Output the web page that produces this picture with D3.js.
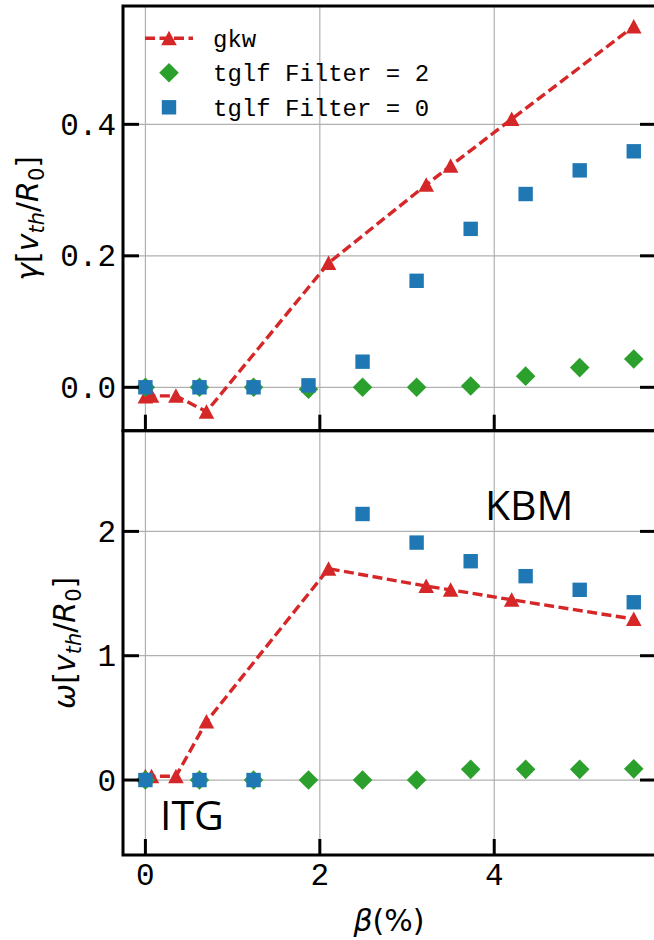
<!DOCTYPE html>
<html>
<head>
<meta charset="utf-8">
<script src="https://cdn.jsdelivr.net/npm/d3@7"></script>
<style>
  body { margin: 0; background: #fff; }
  svg { display: block; }
</style>
</head>
<body>
<svg id="chart" width="654" height="940"></svg>
<script>
// gkw scan: growth rate and real frequency versus beta (%)
const gkwBeta  = [0, 0.07, 0.35, 0.7, 2.1, 3.22, 3.5, 4.2, 5.6];
const gkwGamma = [-0.014, -0.013, -0.013, -0.037, 0.189, 0.308, 0.337, 0.408, 0.549];
const gkwOmega = [0.03, 0.03, 0.03, 0.47, 1.70, 1.56, 1.53, 1.45, 1.295];

// tglf scan with two filter settings
const tglfBeta    = [0, 0.62, 1.24, 1.87, 2.49, 3.11, 3.73, 4.36, 4.98, 5.6];
const tglf2Gamma  = [0, 0, 0, -0.003, 0, 0, 0.002, 0.017, 0.030, 0.043];
const tglf0Gamma  = [0, 0, 0, 0.003, 0.039, 0.162, 0.241, 0.294, 0.330, 0.359];
const tglf2Omega  = [0, 0, 0, 0, 0, 0, 0.086, 0.086, 0.086, 0.09];
const tglf0Omega  = [0, 0, 0, null, 2.14, 1.91, 1.76, 1.64, 1.53, 1.43];

const xTicks     = [0, 2, 4];
const gammaTicks = [0, 0.2, 0.4];
const omegaTicks = [0, 1, 2];
const legendLabels = ["gkw", "tglf Filter = 2", "tglf Filter = 0"];

const RED = "#d62728", GREEN = "#2ca02c", BLUE = "#1f77b4";
const MONO = "'Liberation Mono', monospace";
const MATH = "'DejaVu Sans', sans-serif";

const svg = d3.select("#chart");
const left = 123, right = 656;
const panels = [
  { top: 6, bottom: 430.7, domain: [-0.066, 0.58], ticks: gammaTicks, fmt: d3.format(".1f"),
    gkw: gkwGamma, t2: tglf2Gamma, t0: tglf0Gamma, sym: "γ", labelX: 38, xLabels: false },
  { top: 430.7, bottom: 855, domain: [-0.603, 2.81], ticks: omegaTicks, fmt: d3.format("d"),
    gkw: gkwOmega, t2: tglf2Omega, t0: tglf0Omega, sym: "ω", labelX: 75, xLabels: true }
];

const x = d3.scaleLinear().domain([-0.257, 5.855]).range([left, right]);

const triPath = "M0,-7.5L7.8,7L-7.8,7Z";
const diamondPath = "M0,-9.8L9.8,0L0,9.8L-9.8,0Z";
const squarePath = "M-7.2,-7.2H7.2V7.2H-7.2Z";
const TICK = 16;
const DASH = "10,4.5";

panels.forEach(p => {
  const y = d3.scaleLinear().domain(p.domain).range([p.bottom, p.top]);
  const g = svg.append("g");

  // grid
  g.append("g").selectAll("line.gx").data(xTicks).join("line")
    .attr("x1", d => x(d)).attr("x2", d => x(d))
    .attr("y1", p.top).attr("y2", p.bottom)
    .attr("stroke", "#b0b0b0").attr("stroke-width", 1.2);
  g.append("g").selectAll("line.gy").data(p.ticks).join("line")
    .attr("x1", left).attr("x2", right)
    .attr("y1", d => y(d)).attr("y2", d => y(d))
    .attr("stroke", "#b0b0b0").attr("stroke-width", 1.2);

  // gkw dashed line with triangles
  const gkwPts = gkwBeta.map((b, i) => [b, p.gkw[i]]);
  g.append("path").datum(gkwPts)
    .attr("d", d3.line().x(d => x(d[0])).y(d => y(d[1])))
    .attr("fill", "none").attr("stroke", RED).attr("stroke-width", 3.4)
    .attr("stroke-dasharray", DASH);
  g.append("g").selectAll("path").data(gkwPts).join("path")
    .attr("d", triPath)
    .attr("transform", d => `translate(${x(d[0])},${y(d[1])})`)
    .attr("fill", RED);

  // tglf filter = 2 (diamonds)
  const t2Pts = tglfBeta.map((b, i) => [b, p.t2[i]]).filter(d => d[1] != null);
  g.append("g").selectAll("path").data(t2Pts).join("path")
    .attr("d", diamondPath)
    .attr("transform", d => `translate(${x(d[0])},${y(d[1])})`)
    .attr("fill", GREEN);

  // tglf filter = 0 (squares)
  const t0Pts = tglfBeta.map((b, i) => [b, p.t0[i]]).filter(d => d[1] != null);
  g.append("g").selectAll("path").data(t0Pts).join("path")
    .attr("d", squarePath)
    .attr("transform", d => `translate(${x(d[0])},${y(d[1])})`)
    .attr("fill", BLUE);

  // inward ticks: left, right, bottom
  const tk = g.append("g").attr("stroke", "#000").attr("stroke-width", 3);
  tk.selectAll("line.l").data(p.ticks).join("line")
    .attr("x1", left).attr("x2", left + TICK)
    .attr("y1", d => y(d)).attr("y2", d => y(d));
  tk.selectAll("line.r").data(p.ticks).join("line").attr("class", "r")
    .attr("x1", right - TICK).attr("x2", right)
    .attr("y1", d => y(d)).attr("y2", d => y(d));
  tk.selectAll("line.b").data(xTicks).join("line").attr("class", "b")
    .attr("x1", d => x(d)).attr("x2", d => x(d))
    .attr("y1", p.bottom - TICK).attr("y2", p.bottom);

  // frame
  g.append("rect")
    .attr("x", left).attr("y", p.top)
    .attr("width", right - left).attr("height", p.bottom - p.top)
    .attr("fill", "none").attr("stroke", "#000").attr("stroke-width", 3);

  // y tick labels
  g.append("g").selectAll("text").data(p.ticks).join("text")
    .attr("x", 116).attr("y", d => y(d) + 10.5)
    .attr("text-anchor", "end")
    .attr("font-family", MONO).attr("font-size", 31)
    .text(p.fmt);

  if (p.xLabels) {
    g.append("g").selectAll("text").data(xTicks).join("text")
      .attr("x", d => x(d)).attr("y", 884.5)
      .attr("text-anchor", "middle")
      .attr("font-family", MONO).attr("font-size", 31)
      .text(d3.format("d"));
  }

  // y axis label: sym[v_th/R_0]
  const cy = (p.top + p.bottom) / 2;
  const lab = svg.append("text")
    .attr("transform", `translate(${p.labelX},${cy}) rotate(-90)`)
    .attr("text-anchor", "middle")
    .attr("font-family", MATH).attr("font-size", 30);
  lab.append("tspan").attr("font-style", "italic").text(p.sym);
  lab.append("tspan").text("[");
  lab.append("tspan").attr("font-style", "italic").text("v");
  lab.append("tspan").attr("font-style", "italic").attr("font-size", 21).attr("dy", 6).text("th");
  lab.append("tspan").attr("dy", -6).text("/");
  lab.append("tspan").attr("font-style", "italic").text("R");
  lab.append("tspan").attr("font-size", 21).attr("dy", 6).text("0");
  lab.append("tspan").attr("dy", -6).text("]");
});

// x axis label
const xl = svg.append("text")
  .attr("x", 389).attr("y", 931)
  .attr("text-anchor", "middle")
  .attr("font-family", MATH).attr("font-size", 30);
xl.append("tspan").attr("font-style", "italic").text("β");
xl.append("tspan").text("(%)");

// regime annotations
svg.append("text").attr("x", 485).attr("y", 519.5)
  .attr("font-family", "'Open Sans', sans-serif").attr("font-size", 41).text("KBM");
svg.append("text").attr("x", 160).attr("y", 830)
  .attr("font-family", "'Open Sans', sans-serif").attr("font-size", 41).text("ITG");

// legend
const legRows = [38.3, 72.7, 107.3];
const leg = svg.append("g");
leg.append("line").attr("x1", 145).attr("x2", 193).attr("y1", legRows[0]).attr("y2", legRows[0])
  .attr("stroke", RED).attr("stroke-width", 3.4).attr("stroke-dasharray", DASH);
leg.append("path").attr("d", triPath).attr("transform", `translate(169,${legRows[0]})`).attr("fill", RED);
leg.append("path").attr("d", diamondPath).attr("transform", `translate(169,${legRows[1]})`).attr("fill", GREEN);
leg.append("path").attr("d", squarePath).attr("transform", `translate(169,${legRows[2]})`).attr("fill", BLUE);
leg.selectAll("text").data(legendLabels).join("text")
  .attr("x", 213).attr("y", (d, i) => legRows[i] + 8.5)
  .attr("font-family", MONO).attr("font-size", 24)
  .attr("xml:space", "preserve")
  .style("white-space", "pre")
  .text(d => d);
</script>
</body>
</html>
